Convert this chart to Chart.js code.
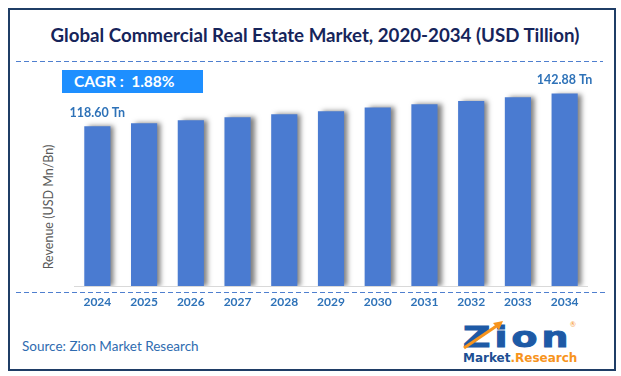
<!DOCTYPE html>
<html>
<head>
<meta charset="utf-8">
<script src="https://cdn.jsdelivr.net/npm/chart.js@4.4.1/dist/chart.umd.min.js"></script>
<style>
  html, body { margin: 0; padding: 0; background: #fff; }
  #wrap { position: relative; width: 621px; height: 376px; overflow: hidden; font-family: Lato, "Open Sans", sans-serif; }
  #frame { position: absolute; left: 8px; top: 8px; width: 604px; height: 359px; border: 2px solid #1f3d66; }
  #title { position: absolute; left: 0; top: 24.5px; width: 630px; text-align: center; font-weight: bold; font-size: 18.7px; line-height: 20px; color: #16245a; }
  .dash { position: absolute; height: 1px; background: repeating-linear-gradient(90deg, #4f7fcf 0 5px, transparent 5px 8px); }
  #cagr { position: absolute; left: 62px; top: 70px; width: 129px; height: 23px; padding-left: 12px; background: #1e8fff; color: #fff; font-weight: bold; font-size: 15.5px; line-height: 23px; white-space: pre; }
  #ylabel { position: absolute; left: 48px; top: 207px; transform: translate(-50%, -50%) rotate(-90deg); white-space: nowrap; font-size: 12.5px; color: #595959; }
  #source { position: absolute; left: 22px; top: 338px; font-size: 13.5px; color: #2f6cb0; }
  #logo { position: absolute; left: 462px; top: 318px; width: 120px; height: 50px; }
  #zion { position: absolute; left: 1px; top: 5.7px; font-family: "DejaVu Sans", sans-serif; font-weight: bold; font-size: 28px; line-height: 28px; color: #1d5aa6; -webkit-text-stroke: 1px #1d5aa6; transform: scaleX(1.35); transform-origin: left top; letter-spacing: 3px; }
  #mr { position: absolute; left: 1px; top: 34px; font-family: "DejaVu Sans", sans-serif; font-weight: bold; font-size: 12px; line-height: 12px; color: #1d4f93; white-space: nowrap; }
  #mr span { color: #f7941d; }
  #reg { position: absolute; left: 108px; top: 2px; font-size: 7px; color: #f7941d; }
  #arrow { position: absolute; left: 0; top: 0; }
  canvas { position: absolute; left: 0; top: 0; }
</style>
</head>
<body>
<div id="wrap">
  <div id="frame"></div>
  <div id="title">Global Commercial Real Estate Market, 2020-2034 (USD Tillion)</div>
  <div class="dash" style="left:16px; top:61px; width:587px;"></div>
  <div class="dash" style="left:16px; top:292px; width:590px;"></div>
  <div id="cagr">CAGR :  1.88%</div>
  <div id="ylabel">Revenue (USD Mn/Bn)</div>
  <div id="source">Source: Zion Market Research</div>
  <div id="logo">
    <div id="zion">Zion</div>
    <svg id="arrow" width="50" height="34">
      <line x1="2" y1="30" x2="36" y2="7" stroke="#f7941d" stroke-width="3"/>
      <polygon points="41,3 31,5 37,12" fill="#f7941d"/>
    </svg>
    <div id="reg">®</div>
    <div id="mr">Market<span>.Research</span></div>
  </div>
  <canvas id="chart" width="621" height="376"></canvas>
</div>
<script>
const years = ['2024', '2025', '2026', '2027', '2028', '2029', '2030', '2031', '2032', '2033', '2034'];
const revenue = [118.60, 120.8, 123.1, 125.3, 127.5, 129.8, 132.6, 134.9, 137.3, 140.1, 142.88];
const valueLabels = ['118.60 Tn', '', '', '', '', '', '', '', '', '', '142.88 Tn'];

const blue = '#2e72b8';

// shadow behind bars, gray base line, value labels
const barExtras = {
    id: 'barExtras',
    beforeDatasetsDraw(chart) {
        const ctx = chart.ctx;
        ctx.save();
        ctx.shadowColor = 'rgba(0, 0, 0, 0.5)';
        ctx.shadowOffsetX = 4;
        ctx.shadowOffsetY = 0;
        ctx.shadowBlur = 5;
    },
    afterDatasetsDraw(chart) {
        const ctx = chart.ctx;
        ctx.restore();
        const area = chart.chartArea;

        ctx.save();
        ctx.strokeStyle = '#d9d9d9';
        ctx.lineWidth = 1;
        ctx.beginPath();
        ctx.moveTo(area.left, area.bottom + 0.5);
        ctx.lineTo(area.right, area.bottom + 0.5);
        ctx.stroke();

        const meta = chart.getDatasetMeta(0);
        ctx.fillStyle = blue;
        ctx.font = 'bold 12.5px Lato, sans-serif';
        ctx.textAlign = 'center';
        ctx.textBaseline = 'middle';
        meta.data.forEach((bar, i) => {
            if (!valueLabels[i]) return;
            ctx.fillText(valueLabels[i], bar.x, bar.y - 13.5);
        });
        ctx.restore();
    }
};

new Chart(document.getElementById('chart'), {
    type: 'bar',
    data: {
        labels: years,
        datasets: [{
            data: revenue,
            backgroundColor: '#4a7bd1',
            borderWidth: 0,
            barPercentage: 0.56,
            categoryPercentage: 1
        }]
    },
    options: {
        responsive: false,
        animation: false,
        devicePixelRatio: 1,
        layout: {
            padding: { left: 74, right: 33, top: 84, bottom: 60 }
        },
        plugins: {
            legend: { display: false },
            tooltip: { enabled: false }
        },
        scales: {
            x: {
                grid: { display: false, drawTicks: false },
                border: { display: false },
                ticks: {
                    color: blue,
                    font: { family: 'Lato', weight: 'bold', size: 12 },
                    padding: 9
                },
                afterFit(scale) { scale.height = 30; }
            },
            y: {
                display: false,
                min: 0,
                max: 150
            }
        }
    },
    plugins: [barExtras]
});
</script>
</body>
</html>
